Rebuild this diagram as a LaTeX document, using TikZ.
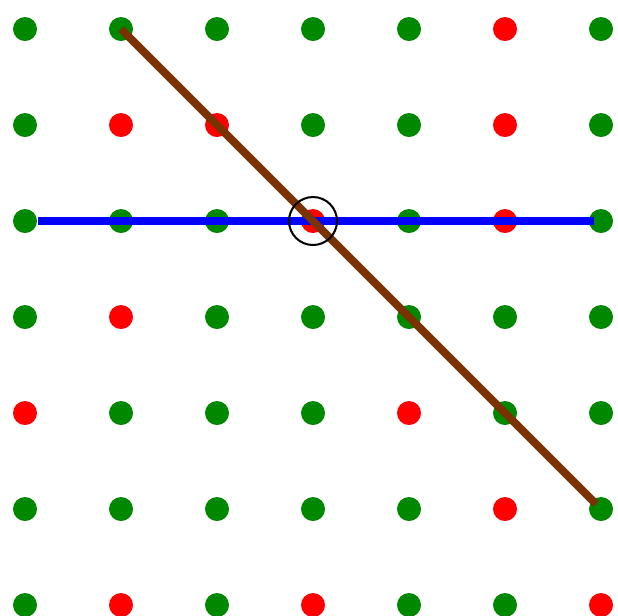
\documentclass[tikz,border=0pt]{standalone}
\usepackage{tikz}
\usetikzlibrary{positioning}

\definecolor{dotgreen}{RGB}{0,136,0}
\definecolor{linebrown}{RGB}{122,51,0}

\begin{document}
\begin{tikzpicture}[
    x=1cm, y=-1cm,
    dot/.style={circle, inner sep=0pt, minimum size=0.25cm},
    dotG/.style={dot, fill=dotgreen},
    dotR/.style={dot, fill=red},
    ring/.style={circle, draw=black, line width=0.6pt, minimum size=0.5cm, inner sep=0pt},
    rowline/.style={draw=blue, line width=2.4pt},
    diagline/.style={draw=linebrown, line width=2.4pt}
]
\useasboundingbox (-0.2604,-0.3021) rectangle (6.1771,6.1042);

% Grid of points
\foreach \row/\cols in {0/{G,G,G,G,G,R,G},
                        1/{G,R,R,G,G,R,G},
                        2/{G,G,G,R,G,R,G},
                        3/{G,R,G,G,G,G,G},
                        4/{R,G,G,G,R,G,G},
                        5/{G,G,G,G,G,R,G},
                        6/{G,R,G,R,G,G,R}}
    \foreach \c [count=\col from 0] in \cols
        \node[dot\c] (p-\col-\row) at (\col,\row) {};

% Lines
\draw[rowline, shorten >=-0.06cm] (p-0-2) -- (p-6-2);
\draw[diagline, shorten >=-0.06cm] (p-1-0.center) -- (p-6-5);

% Marked point
\node[ring] (mark) at (p-3-2) {};

\end{tikzpicture}
\end{document}
